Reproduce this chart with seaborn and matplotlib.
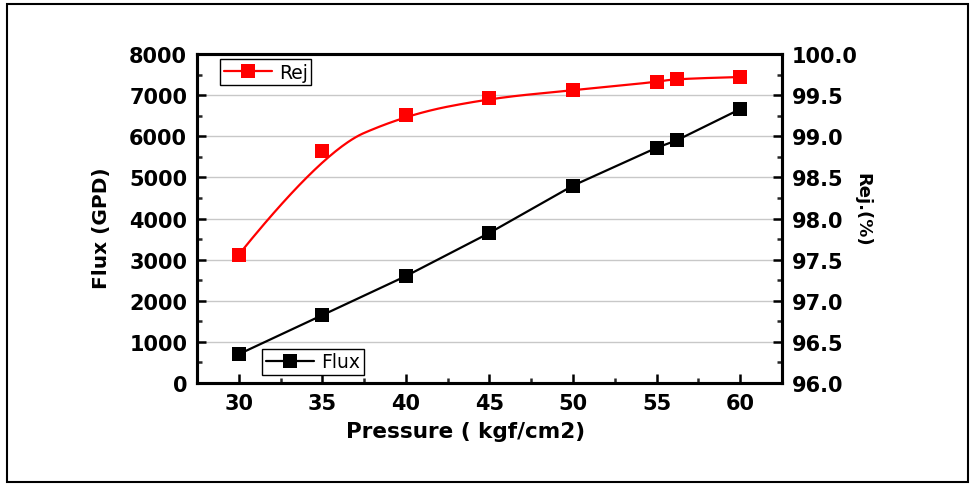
import numpy as np
import pandas as pd
import matplotlib
matplotlib.use("Agg")
import matplotlib.pyplot as plt
from matplotlib.lines import Line2D
from matplotlib.patches import Rectangle
from matplotlib.ticker import MultipleLocator
import seaborn as sns

# values
pressure = [30, 35, 40, 45, 50, 55, 56.2, 60]
flux = [700, 1650, 2600, 3650, 4800, 5720, 5900, 6660]
rej = [97.56, 98.82, 99.26, 99.46, 99.56, 99.66, 99.70, 99.72]

flux_ticks = [0, 1000, 2000, 3000, 4000, 5000, 6000, 7000, 8000]
rej_ticks = [96.0, 96.5, 97.0, 97.5, 98.0, 98.5, 99.0, 99.5, 100.0]
x_ticks = [30, 35, 40, 45, 50, 55, 60]


def bspline(px, py, degree=2, num=300):
    """Clamped B-spline using the data as control points (Origin style)."""
    pts = np.column_stack([px, py]).astype(float)
    n = len(pts)
    inner = np.arange(1, n - degree)
    knots = np.concatenate([np.zeros(degree + 1), inner, np.full(degree + 1, n - degree)])
    t = np.linspace(0, n - degree, num)
    t[-1] -= 1e-9

    def basis(i, k, tt):
        if k == 0:
            return ((knots[i] <= tt) & (tt < knots[i + 1])).astype(float)
        out = np.zeros_like(tt)
        d1 = knots[i + k] - knots[i]
        d2 = knots[i + k + 1] - knots[i + 1]
        if d1 > 0:
            out += (tt - knots[i]) / d1 * basis(i, k - 1, tt)
        if d2 > 0:
            out += (knots[i + k + 1] - tt) / d2 * basis(i + 1, k - 1, tt)
        return out

    B = np.array([basis(i, degree, t) for i in range(n)])
    curve = B.T @ pts
    return curve[:, 0], curve[:, 1]


df = pd.DataFrame({"Pressure": pressure, "Flux": flux, "Rej": rej})

sns.set_theme(style="white")
plt.rcParams["font.family"] = ["DejaVu Sans"]
plt.rcParams["text.color"] = "black"
plt.rcParams["axes.labelcolor"] = "black"

fig = plt.figure(figsize=(9.75, 4.89), dpi=100)
ax = fig.add_axes([0.202, 0.2147, 0.600, 0.6728])
ax2 = ax.twinx()

# flux: straight segments
sns.lineplot(data=df, x="Pressure", y="Flux", ax=ax, color="black", linewidth=1.6,
             marker="s", markersize=9.5, markeredgewidth=0, zorder=3)

# rej: smooth B-spline plus markers
sx, sy = bspline(pressure, rej)
ax2.plot(sx, sy, color="#ff0000", linewidth=1.6, zorder=3)
sns.scatterplot(data=df, x="Pressure", y="Rej", ax=ax2, color="#ff0000", marker="s",
                s=90, linewidth=0, zorder=4)

ax.set_xlim(27.5, 62.5)
ax.set_ylim(0, 8000)
ax2.set_ylim(96, 100)
ax.set_xticks(x_ticks)
ax.set_yticks(flux_ticks)
ax2.set_yticks(rej_ticks)
ax.set_xticklabels([str(v) for v in x_ticks])
ax.set_yticklabels([str(v) for v in flux_ticks])
ax2.set_yticklabels([f"{v:.1f}" for v in rej_ticks])
ax.xaxis.set_minor_locator(MultipleLocator(2.5))
ax.yaxis.set_minor_locator(MultipleLocator(500))
ax2.yaxis.set_minor_locator(MultipleLocator(0.25))

ax.yaxis.grid(True, color="#c8c8c8", linewidth=1.0)
ax.set_axisbelow(True)

for a in (ax, ax2):
    for s in a.spines.values():
        s.set_linewidth(2.2)
        s.set_color("black")

ax.tick_params(axis="both", which="major", direction="in", length=6.5, width=1.8,
               labelsize=15, pad=7, colors="black", top=False, right=False, bottom=True, left=True)
ax.tick_params(axis="both", which="minor", direction="in", length=3.5, width=1.8,
               top=False, right=False, bottom=True, left=True)
ax2.tick_params(axis="y", which="major", direction="in", length=6.5, width=1.8,
                labelsize=15, pad=7, colors="black", right=True)
ax2.tick_params(axis="y", which="minor", direction="in", length=3.5, width=1.8, right=True)
for lab in ax.get_xticklabels() + ax.get_yticklabels() + ax2.get_yticklabels():
    lab.set_fontweight("bold")

ax.set_xlabel("Pressure ( kgf/cm2)", fontsize=15.5, fontweight="bold", va="center")
ax.xaxis.set_label_coords(0.46, -0.146)
ax.set_ylabel("Flux (GPD)", fontsize=14.5, fontweight="bold", va="center")
ax.yaxis.set_label_coords(-0.164, 0.474)
ax2.set_ylabel("Rej.(%)", fontsize=13, fontweight="bold", rotation=270, va="center")
ax2.yaxis.set_label_coords(1.137, 0.529)

h_rej = Line2D([], [], color="#ff0000", linewidth=1.6, marker="s", markersize=9.5, markeredgewidth=0)
h_flux = Line2D([], [], color="black", linewidth=1.6, marker="s", markersize=9.5, markeredgewidth=0)
leg_kw = dict(fontsize=13.5, frameon=True, fancybox=False, edgecolor="black", framealpha=1,
              handlelength=2.6, handletextpad=0.35, borderpad=0.2, borderaxespad=0)
leg1 = ax2.legend([h_rej], ["Rej"], loc="upper left", bbox_to_anchor=(0.039, 0.985), **leg_kw)
leg1.get_frame().set_linewidth(1.0)
leg2 = ax2.legend([h_flux], ["Flux"], loc="lower left", bbox_to_anchor=(0.111, 0.024), **leg_kw)
leg2.get_frame().set_linewidth(1.0)
ax2.add_artist(leg1)

# outer frame around the whole picture
fig.patches.append(Rectangle((7 / 975, 6 / 489), 961 / 975, 478 / 489, transform=fig.transFigure,
                             fill=False, edgecolor="black", linewidth=1.5))

fig.savefig("out.png", dpi=100)
plt.close(fig)
